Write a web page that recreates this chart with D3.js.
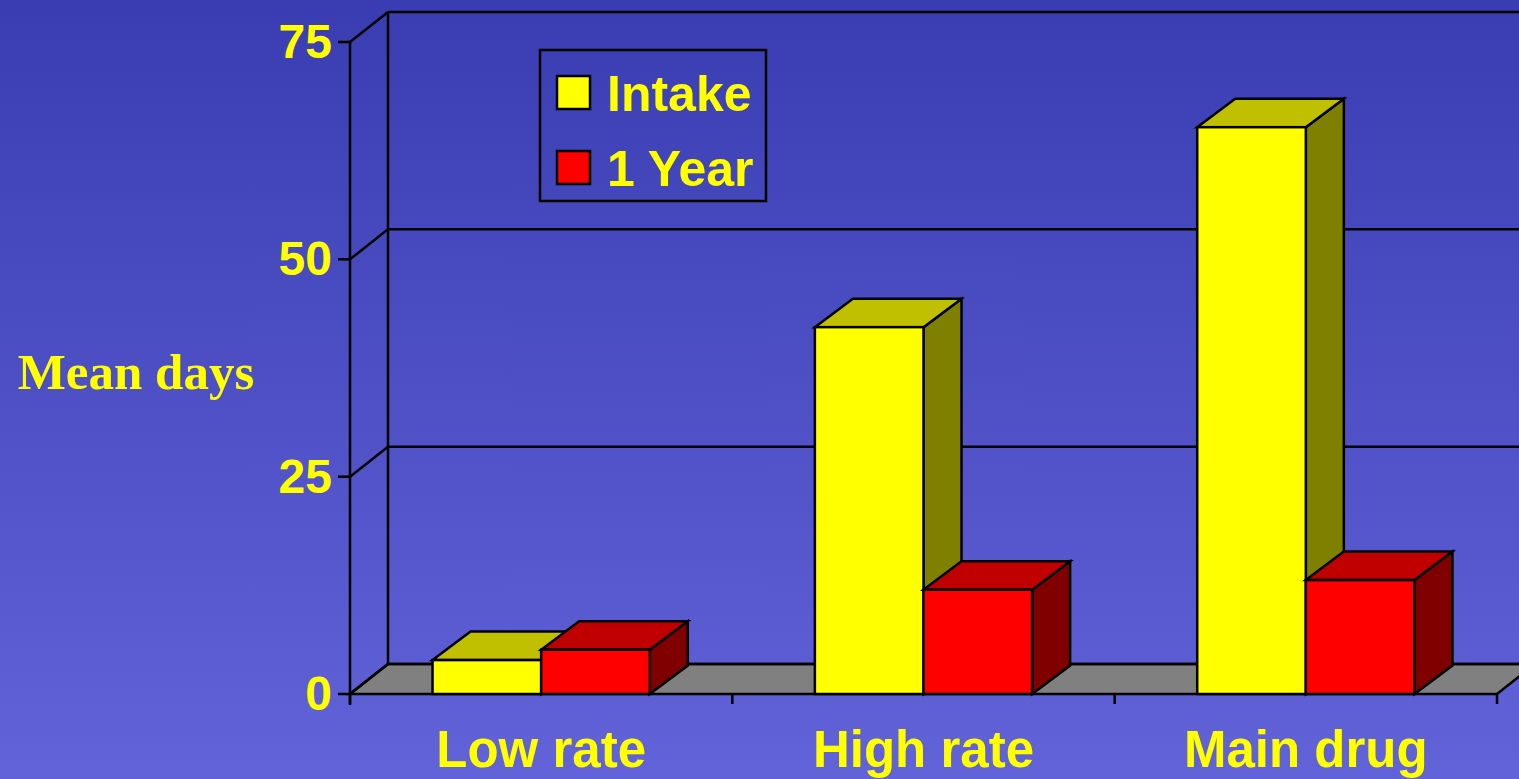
<!DOCTYPE html>
<html>
<head>
<meta charset="utf-8">
<script src="https://cdn.jsdelivr.net/npm/d3@7"></script>
<style>
  html, body { margin: 0; padding: 0; overflow: hidden; }
  svg { display: block; }
</style>
</head>
<body>
<svg id="chart" width="1519" height="779"></svg>
<script>
// Chart data
const categories = ["Low rate", "High rate", "Main drug"];
const seriesNames = ["Intake", "1 Year"];
const intake = [3.9, 42.2, 65.2];
const oneYear = [5.1, 12.0, 13.1];
const yTicks = [0, 25, 50, 75];

const frontColors = ["#FFFF00", "#FF0000"];
const topColors = ["#C0C000", "#C00000"];
const sideColors = ["#808000", "#800000"];

const W = 1519, H = 779;
const svg = d3.select("#chart");

// Background gradient
const defs = svg.append("defs");
const grad = defs.append("linearGradient").attr("id", "bg")
  .attr("x1", 0).attr("y1", 0).attr("x2", 0).attr("y2", 1);
grad.append("stop").attr("offset", "0%").attr("stop-color", "#3a3db1");
grad.append("stop").attr("offset", "100%").attr("stop-color", "#6262d9");
svg.append("rect").attr("width", W).attr("height", H).attr("fill", "url(#bg)");

// Depth offsets of the 3D box (walls) and of the bars
const dx = 38, dy = -30;
const bdx = 38, bdy = -28.5;
const SW = 2.5;

const y = d3.scaleLinear().domain([0, 75]).range([694, 42]);
const x0 = d3.scaleBand().domain(categories).range([350, 1497]).padding(0);
const x1 = d3.scaleBand().domain(seriesNames).range([0, x0.bandwidth()])
  .paddingInner(0).paddingOuter(0.76);

const line = (g, x1_, y1_, x2_, y2_) => g.append("line")
  .attr("x1", x1_).attr("y1", y1_).attr("x2", x2_).attr("y2", y2_)
  .attr("stroke", "#000").attr("stroke-width", SW);

const walls = svg.append("g");
const xL = x0.range()[0], xR = x0.range()[1];
const y0 = y(0);

// Floor
walls.append("polygon")
  .attr("points", [[xL, y0], [xR, y0], [xR + dx, y0 + dy], [xL + dx, y0 + dy]].map(p => p.join(",")).join(" "))
  .attr("fill", "#808080").attr("stroke", "#000").attr("stroke-width", SW)
  .attr("stroke-linejoin", "miter");

// Back wall and side wall gridlines
line(walls, xL + dx, y(75) + dy, xL + dx, y0 + dy);
yTicks.forEach(v => {
  line(walls, xL + dx, y(v) + dy, xR + dx + 40, y(v) + dy);
  line(walls, xL, y(v), xL + dx, y(v) + dy);
});

// Y axis
line(walls, xL, y(75), xL, y0 + 11);
yTicks.forEach(v => line(walls, xL - 12, y(v), xL, y(v)));

// Category ticks
[...categories.map(c => x0(c)), xR].forEach(xv => line(walls, xv, y0, xv, y0 + 10));

// Y tick labels
svg.append("g").selectAll("text").data(yTicks).join("text")
  .attr("x", 332).attr("y", d => y(d) + 16)
  .attr("text-anchor", "end")
  .attr("font-family", "Liberation Sans, Arial, sans-serif")
  .attr("font-weight", "bold").attr("font-size", 48)
  .attr("fill", "#FFFF00")
  .text(d => d);

// Category labels
svg.append("g").selectAll("text").data(categories).join("text")
  .attr("x", d => x0(d) + x0.bandwidth() / 2).attr("y", 767)
  .attr("text-anchor", "middle")
  .attr("font-family", "Liberation Sans, Arial, sans-serif")
  .attr("font-weight", "bold").attr("font-size", 51)
  .attr("fill", "#FFFF00")
  .text(d => d);

// Y axis title
svg.append("text")
  .attr("x", 136).attr("y", 389)
  .attr("text-anchor", "middle")
  .attr("font-family", "Liberation Serif, 'Times New Roman', serif")
  .attr("font-weight", "bold").attr("font-size", 51)
  .attr("fill", "#FFFF00")
  .text("Mean days");

// Bars, drawn left to right so nearer faces overlap correctly
const bars = [];
categories.forEach((c, i) => {
  [intake, oneYear].forEach((series, s) => {
    bars.push({ cat: c, s, name: seriesNames[s], value: series[i] });
  });
});

const pts = arr => arr.map(p => p.join(",")).join(" ");
const barG = svg.append("g");
bars.forEach(b => {
  const xa = x0(b.cat) + x1(b.name);
  const xb = xa + x1.bandwidth();
  const yt = y(b.value);
  const g = barG.append("g");
  const common = el => el.attr("stroke", "#000").attr("stroke-width", SW).attr("stroke-linejoin", "miter");
  // side face
  common(g.append("polygon")
    .attr("points", pts([[xb, y0], [xb + bdx, y0 + bdy], [xb + bdx, yt + bdy], [xb, yt]]))
    .attr("fill", sideColors[b.s]));
  // top face
  common(g.append("polygon")
    .attr("points", pts([[xa, yt], [xb, yt], [xb + bdx, yt + bdy], [xa + bdx, yt + bdy]]))
    .attr("fill", topColors[b.s]));
  // front face
  common(g.append("rect")
    .attr("x", xa).attr("y", yt).attr("width", xb - xa).attr("height", y0 - yt)
    .attr("fill", frontColors[b.s]));
});

// Legend
const leg = svg.append("g");
leg.append("rect").attr("x", 540).attr("y", 50).attr("width", 226).attr("height", 151)
  .attr("fill", "none").attr("stroke", "#000").attr("stroke-width", SW);
seriesNames.forEach((n, i) => {
  const cy = 92 + i * 75;
  leg.append("rect").attr("x", 557).attr("y", cy - 16).attr("width", 33).attr("height", 33)
    .attr("fill", frontColors[i]).attr("stroke", "#000").attr("stroke-width", SW);
  leg.append("text").attr("x", 607).attr("y", cy + 19)
    .attr("font-family", "Liberation Sans, Arial, sans-serif")
    .attr("font-weight", "bold").attr("font-size", 50)
    .attr("fill", "#FFFF00")
    .text(n);
});
</script>
</body>
</html>
